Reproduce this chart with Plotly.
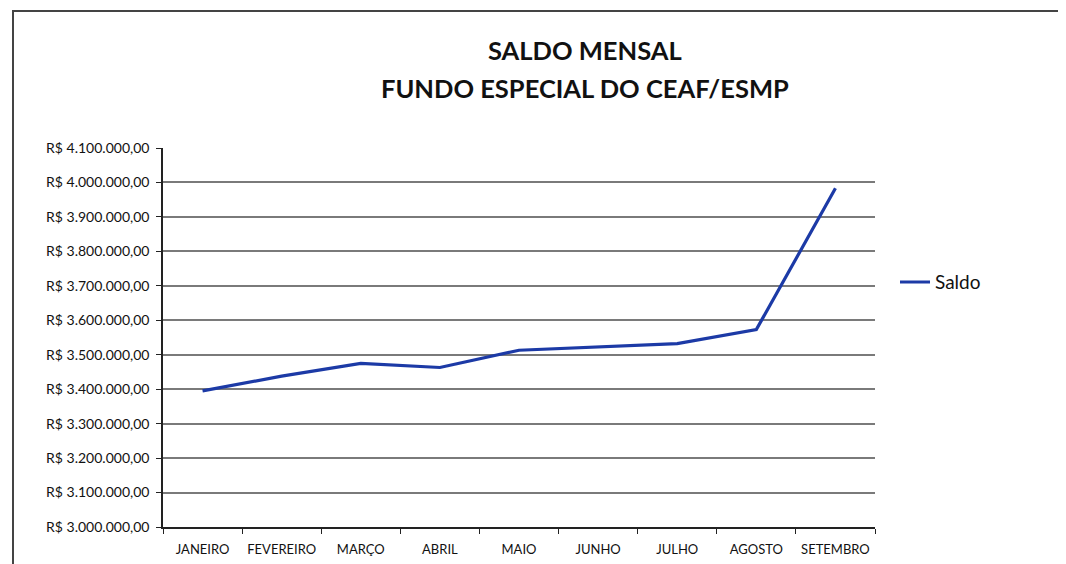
import plotly.graph_objects as go

meses = ["JANEIRO", "FEVEREIRO", "MARÇO", "ABRIL", "MAIO", "JUNHO", "JULHO", "AGOSTO", "SETEMBRO"]
saldo = [3395000, 3438000, 3475000, 3463000, 3513000, 3523000, 3532000, 3573000, 3983000]
y_ticks = [3000000, 3100000, 3200000, 3300000, 3400000, 3500000, 3600000, 3700000, 3800000, 3900000, 4000000, 4100000]
y_tick_labels = ["R$ 3.000.000,00", "R$ 3.100.000,00", "R$ 3.200.000,00", "R$ 3.300.000,00",
                 "R$ 3.400.000,00", "R$ 3.500.000,00", "R$ 3.600.000,00", "R$ 3.700.000,00",
                 "R$ 3.800.000,00", "R$ 3.900.000,00", "R$ 4.000.000,00", "R$ 4.100.000,00"]
titulo = ["SALDO MENSAL", "FUNDO ESPECIAL DO CEAF/ESMP"]

FONT = "Lato"
W, H = 1066, 564
L, R, T, B = 155, 199, 140, 45
PW, PH = W - L - R, H - T - B

fig = go.Figure()
fig.add_trace(go.Scatter(
    x=meses, y=saldo, mode="lines", name="Saldo",
    line=dict(color="#1c3aa6", width=3.2),
))

fig.update_layout(
    width=W, height=H,
    margin=dict(l=L, r=R, t=T, b=B, autoexpand=False),
    paper_bgcolor="white", plot_bgcolor="white",
    font=dict(family=FONT, color="#111111"),
    legend=dict(
        x=(887 - L) / PW, y=0.646, xanchor="left", yanchor="middle",
        font=dict(family=FONT, size=19, color="#111111"),
        bgcolor="rgba(0,0,0,0)",
    ),
    showlegend=True,
)

for i, (txt, yc) in enumerate(zip(titulo, [42, 80])):
    fig.add_annotation(
        text="<b>" + txt + "</b>", xref="paper", yref="paper",
        x=(577 - L) / PW, y=(H - B - yc) / PH, xanchor="center", yanchor="middle",
        showarrow=False, font=dict(family=FONT, size=25.5, color="#111111"),
    )

fig.update_xaxes(
    type="category", range=[-0.5, 8.5],
    showline=True, linecolor="#222222", linewidth=1.5,
    ticks="outside", tickson="boundaries", ticklen=5, tickcolor="#222222",
    showgrid=False, ticklabelstandoff=10, tickangle=0,
    tickfont=dict(family=FONT, size=13, color="#111111"),
)
fig.update_yaxes(
    range=[3000000, 4100000],
    tickvals=y_ticks, ticktext=y_tick_labels,
    showline=True, linecolor="#222222", linewidth=1.5,
    ticks="outside", ticklen=5, tickcolor="#222222",
    showgrid=True, gridcolor="#7a7a7a", gridwidth=1.5,
    zeroline=False, ticklabelstandoff=4,
    tickfont=dict(family=FONT, size=14, color="#111111"),
)

fig.add_shape(
    type="rect", xref="paper", yref="paper",
    x0=(5 - L) / PW, x1=1.4, y0=-0.3, y1=(H - B - 3) / PH,
    line=dict(color="#444444", width=2), fillcolor="rgba(0,0,0,0)", layer="below",
)

fig.write_html("out.html")
